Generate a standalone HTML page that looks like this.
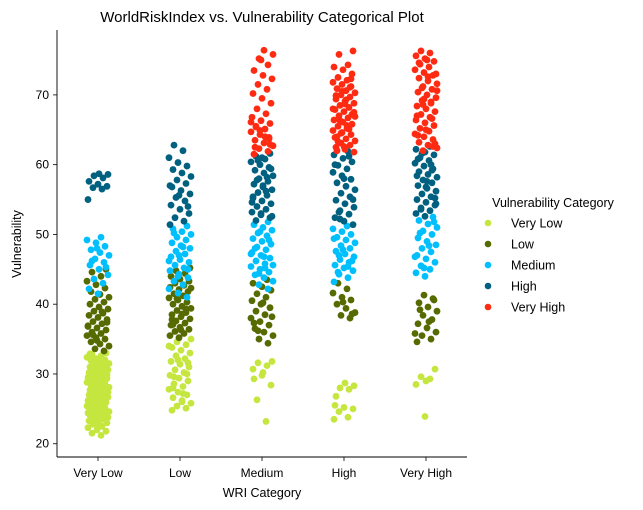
<!DOCTYPE html>
<html><head><meta charset="utf-8">
<style>
body{margin:0;background:#fff;}
svg{display:block;font-family:"Liberation Sans","DejaVu Sans",sans-serif;}
</style></head>
<body>
<svg id="chart" width="643" height="510" viewBox="0 0 643 510">
<text x="262" y="22" font-size="15" text-anchor="middle">WorldRiskIndex vs. Vulnerability Categorical Plot</text>
<g id="marks"></g>
<line x1="57" y1="30" x2="57" y2="457" stroke="#000" stroke-width="0.9"/>
<line x1="57" y1="457" x2="467" y2="457" stroke="#000" stroke-width="0.9"/>
<g id="yticks"></g>
<g id="xticks"></g>
<text x="262" y="497" font-size="12.5" text-anchor="middle">WRI Category</text>
<text x="21" y="244" font-size="12.5" text-anchor="middle" transform="rotate(-90 21 244)">Vulnerability</text>
<g id="legend">
<text x="553" y="207" font-size="12.5" text-anchor="middle">Vulnerability Category</text>
</g>
</svg>
<script>
const categories = ["Very Low","Low","Medium","High","Very High"];
const classes = ["Very Low","Low","Medium","High","Very High"];
const colors = ["#c5e63e","#556b00","#00bfff","#006080","#ff2a12"];
const yTicks = [20,30,40,50,60,70];
const wriVeryLow_VL = [21.2,21.5,21.8,22.0,22.3,22.5,22.8,23.0,23.1,23.3,23.5,23.6,23.8,24.0,24.1,24.3,24.5,24.6,24.8,25.0,25.1,25.3,25.4,25.6,25.8,25.9,26.0,26.2,26.3,26.5,26.6,26.8,27.0,27.1,27.2,27.4,27.5,27.7,27.8,28.0,28.1,28.2,28.4,28.5,28.6,28.8,28.9,29.0,29.2,29.3,29.5,29.6,29.8,29.9,30.0,30.2,30.3,30.5,30.6,30.8,31.0,31.1,31.3,31.5,31.7,31.9,32.0,32.2,32.4,32.6,32.8,33.0,22.6,24.4,26.1,27.9,29.4,30.7,25.2,28.3,23.9,26.7,31.6,32.9];
const wriVeryLow_L = [33.3,33.6,34.0,34.3,34.6,35.0,35.2,35.5,35.8,36.0,36.3,36.6,36.9,37.2,37.5,37.8,38.1,38.4,38.7,39.0,39.3,39.6,40.0,40.3,40.7,41.0,41.4,41.8,42.3,42.8,43.3,44.0,44.6,45.0,34.8,36.8,38.9,35.6,37.4];
const wriVeryLow_M = [41.5,42.2,43.0,43.6,44.2,45.0,45.6,46.0,46.5,47.0,47.4,47.8,48.3,48.8,49.2,49.6,46.2,45.3,48.0];
const wriVeryLow_H = [55.0,56.5,56.7,56.9,57.2,57.6,58.1,58.4,58.6,58.7];
const wriVeryLow_VH = [];
const wriLow_VL = [24.8,25.1,25.4,25.8,26.2,26.6,27.0,27.4,27.8,28.2,28.6,29.0,29.4,29.8,30.2,30.6,31.0,31.4,31.8,32.2,32.6,33.0,33.4,33.8,34.2,34.6,35.0,26.0,28.0,30.0,32.0,34.0,27.2,29.6,31.6];
const wriLow_L = [35.2,35.5,35.8,36.1,36.4,36.7,37.0,37.3,37.6,37.9,38.2,38.5,38.8,39.1,39.4,39.7,40.0,40.3,40.6,40.9,41.2,41.5,41.8,42.1,42.4,42.7,43.0,43.3,43.6,44.0,44.4,44.8,45.2,36.3,37.8,39.3,40.8,42.3,38.6,37.1];
const wriLow_M = [41.0,41.6,42.2,42.8,43.3,43.8,44.3,44.8,45.2,45.6,46.0,46.4,46.8,47.2,47.6,48.0,48.4,48.8,49.2,49.6,50.0,50.4,50.8,51.2,44.0,46.2,48.2,50.2,45.0,47.0];
const wriLow_H = [51.4,51.9,52.4,53.0,53.6,54.2,54.8,55.3,55.8,56.3,56.8,57.3,57.8,58.3,58.8,59.3,59.8,60.3,61.0,62.0,62.8,54.0,55.6,57.0];
const wriLow_VH = [];
const wriMed_VL = [23.2,26.3,28.4,29.8,30.7,31.2,31.6,31.8,30.2,29.3];
const wriMed_L = [34.4,35.0,35.5,36.0,36.5,37.0,37.5,38.0,38.5,39.0,39.5,40.0,40.5,41.0,41.5,42.0,42.5,43.0,43.5,36.2,38.2,40.2,37.3];
const wriMed_M = [42.2,42.8,43.3,43.8,44.2,44.6,45.0,45.4,45.8,46.2,46.6,47.0,47.4,47.8,48.2,48.6,49.0,49.4,49.8,50.2,50.6,51.0,51.4,51.8,44.4,45.6,46.8,48.0,49.2,50.4,47.2,45.2];
const wriMed_H = [52.0,52.4,52.8,53.2,53.6,54.0,54.4,54.8,55.2,55.6,56.0,56.4,56.8,57.2,57.6,58.0,58.4,58.8,59.2,59.6,60.0,60.4,60.8,61.2,61.6,53.0,54.6,56.2,57.8,59.4,61.0,55.4,58.2,60.6,52.6,57.0];
const wriMed_VH = [61.5,61.9,62.3,62.7,63.1,63.5,63.9,64.3,64.7,65.1,65.5,65.9,66.3,66.8,67.3,68.0,68.8,69.5,70.2,70.8,71.5,72.3,72.8,73.5,74.3,75.2,75.8,76.4,62.5,63.7,64.9,66.1,64.0,65.4,62.9,75.0];
const wriHigh_VL = [23.5,23.8,24.6,25.0,25.2,25.5,27.8,28.0,28.3,28.7,26.8];
const wriHigh_L = [38.0,38.4,38.8,39.4,40.0,40.6,41.0,41.6,42.2,43.0,38.6,40.3];
const wriHigh_M = [43.2,43.8,44.3,44.8,45.2,45.6,46.0,46.4,46.8,47.2,47.6,48.0,48.4,48.8,49.2,49.6,50.0,50.4,50.8,51.2,44.6,46.2,47.8,49.4,45.4,47.0];
const wriHigh_H = [51.4,51.9,52.4,52.9,53.4,53.9,54.4,54.9,55.4,55.9,56.4,56.9,57.4,57.9,58.4,58.9,59.4,59.9,60.4,60.9,61.4,61.9,53.2,55.0,58.0,60.0,61.2,52.2];
const wriHigh_VH = [61.8,62.2,62.5,62.8,63.1,63.4,63.7,64.0,64.3,64.6,64.9,65.2,65.5,65.8,66.1,66.4,66.7,67.0,67.3,67.6,67.9,68.2,68.5,68.8,69.1,69.4,69.7,70.0,70.3,70.6,70.9,71.2,71.5,71.8,72.1,72.5,73.0,73.6,74.0,74.3,75.8,76.3,62.6,63.9,65.1,66.3,67.5,68.7,69.9,71.1,64.5,66.9,69.3,62.0,72.3,70.5,68.0,65.6,63.3,67.2];
const wriVH_VL = [23.9,28.5,29.3,29.6,30.7,29.0];
const wriVH_L = [34.6,35.0,35.5,36.0,36.6,37.2,37.8,38.4,39.0,39.6,40.2,40.8,41.3,35.8,37.5,39.2,40.6];
const wriVH_M = [44.0,44.5,45.0,45.5,46.0,46.5,47.0,47.5,48.0,48.5,49.0,49.5,50.0,50.5,51.0,51.5,52.0,52.5,45.2,46.8,48.4,50.2,51.8];
const wriVH_H = [52.6,53.0,53.4,53.8,54.2,54.6,55.0,55.4,55.8,56.2,56.6,57.0,57.4,57.8,58.2,58.6,59.0,59.4,59.8,60.2,60.6,61.0,61.4,61.8,62.2,62.6,53.6,55.2,56.8,58.4,60.0,61.6,54.4,57.6,60.8,59.2];
const wriVH_VH = [62.0,62.4,62.8,63.2,63.6,64.0,64.4,64.8,65.2,65.6,66.0,66.4,66.8,67.2,67.6,68.0,68.4,68.8,69.2,69.6,70.0,70.4,70.8,71.2,71.6,72.0,72.4,72.8,73.2,73.6,74.0,74.4,74.8,75.2,75.6,76.0,76.3,63.0,65.0,67.0,69.0,71.0,73.0,75.0,64.2,66.6,68.6,70.6,72.6,74.6,62.6,69.4];
const groups = [
 [wriVeryLow_VL,wriVeryLow_L,wriVeryLow_M,wriVeryLow_H,wriVeryLow_VH],
 [wriLow_VL,wriLow_L,wriLow_M,wriLow_H,wriLow_VH],
 [wriMed_VL,wriMed_L,wriMed_M,wriMed_H,wriMed_VH],
 [wriHigh_VL,wriHigh_L,wriHigh_M,wriHigh_H,wriHigh_VH],
 [wriVH_VL,wriVH_L,wriVH_M,wriVH_H,wriVH_VH]
];
const NS="http://www.w3.org/2000/svg";
const pLeft=57,pRight=467,pTop=30,pBottom=457;
const yMin=18.1,yMax=79.3;
function yScale(v){return pBottom-(v-yMin)/(yMax-yMin)*(pBottom-pTop);}
function xScale(i){const bw=(pRight-pLeft)/categories.length;return pLeft+bw*(i+0.5);}
const marks=document.getElementById('marks');
let k=0;
groups.forEach((g,ci)=>{
  g.forEach((vals,si)=>{
    vals.forEach((v,i)=>{
      k++;
      const jit=(((k*37)%23)/22-0.5)*22;
      const c=document.createElementNS(NS,'circle');
      c.setAttribute('cx',xScale(ci)+jit);
      c.setAttribute('cy',yScale(v));
      c.setAttribute('r',3.4);
      c.setAttribute('fill',colors[si]);
      
      
      marks.appendChild(c);
    });
  });
});
const yt=document.getElementById('yticks');
yTicks.forEach(t=>{
  const y=yScale(t);
  const l=document.createElementNS(NS,'line');
  l.setAttribute('x1',53);l.setAttribute('x2',57);l.setAttribute('y1',y);l.setAttribute('y2',y);
  l.setAttribute('stroke','#000');l.setAttribute('stroke-width','0.8');
  
  
  yt.appendChild(l);
  const tx=document.createElementNS(NS,'text');
  tx.setAttribute('x',49);tx.setAttribute('y',y+4);tx.setAttribute('font-size','12');tx.setAttribute('text-anchor','end');
  tx.textContent=t;
  
  
  yt.appendChild(tx);
});
const xt=document.getElementById('xticks');
categories.forEach((c,i)=>{
  const x=xScale(i);
  const l=document.createElementNS(NS,'line');
  l.setAttribute('x1',x);l.setAttribute('x2',x);l.setAttribute('y1',457);l.setAttribute('y2',461);
  l.setAttribute('stroke','#000');l.setAttribute('stroke-width','0.8');
  
  
  xt.appendChild(l);
  const tx=document.createElementNS(NS,'text');
  tx.setAttribute('x',x);tx.setAttribute('y',477);tx.setAttribute('font-size','12');tx.setAttribute('text-anchor','middle');
  tx.textContent=c;
  
  
  xt.appendChild(tx);
});
const lg=document.getElementById('legend');
classes.forEach((c,i)=>{
  const y=223+i*21;
  const m=document.createElementNS(NS,'circle');
  m.setAttribute('cx',488);m.setAttribute('cy',y);m.setAttribute('r',3.3);m.setAttribute('fill',colors[i]);
  
  
  lg.appendChild(m);
  const tx=document.createElementNS(NS,'text');
  tx.setAttribute('x',511);tx.setAttribute('y',y+4.5);tx.setAttribute('font-size','12.5');
  tx.textContent=c;
  
  
  lg.appendChild(tx);
});
</script>
</body></html>
